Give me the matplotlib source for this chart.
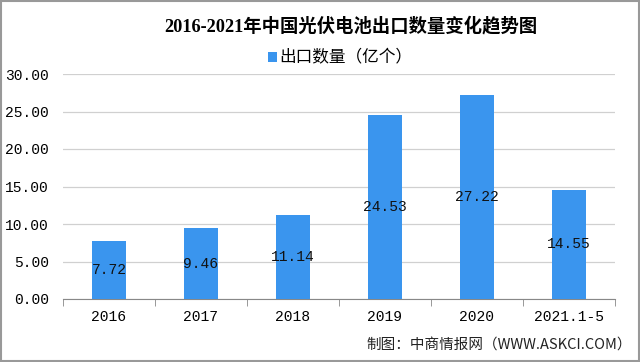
import matplotlib
matplotlib.use("Agg")
import matplotlib.pyplot as plt
from matplotlib.patches import Rectangle

# data
categorias = ["2016", "2017", "2018", "2019", "2020", "2021.1-5"]
valores = [7.72, 9.46, 11.14, 24.53, 27.22, 14.55]
rotulos = ["7.72", "9.46", "11.14", "24.53", "27.22", "14.55"]
yticks = [0, 5, 10, 15, 20, 25, 30]

titulo = "2016-2021年中国光伏电池出口数量变化趋势图"
legenda = "出口数量（亿个）"
fonte = "制图：中商情报网（WWW.ASKCI.COM）"

cor_barra = "#3a95ee"
num_font = ["Liberation Mono", "Noto Sans CJK SC"]
cjk_font = ["Noto Sans CJK SC", "DejaVu Sans"]

fig = plt.figure(figsize=(6.4, 3.62), dpi=100)
fig.patch.set_facecolor("white")
ax = fig.add_axes([63 / 640, 1 - 299 / 362, (615 - 63) / 640, (299 - 74) / 362])

x = list(range(len(categorias)))
barras = ax.bar(x, valores, width=0.36, color=cor_barra, zorder=3, label=legenda)
ax.bar_label(barras, labels=rotulos, label_type="center", fontsize=10.5,
             family=num_font, color="#111111", zorder=4)

ax.set_xlim(-0.5, len(categorias) - 0.5)
ax.set_ylim(0, 30)
ax.set_yticks(yticks)
ax.set_yticklabels([f"{v:.2f}" for v in yticks], family=num_font, fontsize=10.5)
ax.set_xticks(x)
ax.set_xticklabels(categorias, family=num_font, fontsize=10.5)
ax.tick_params(axis="x", length=0, pad=8)
ax.tick_params(axis="y", length=0, pad=10)

# marcas entre categorias
ax.set_xticks([i - 0.5 for i in range(len(categorias) + 1)], minor=True)
ax.tick_params(axis="x", which="minor", length=5, color="#888888")

ax.grid(axis="y", color="#d0d0d0", linewidth=0.9, zorder=0)
for lado in ["top", "right", "left"]:
    ax.spines[lado].set_visible(False)
ax.spines["bottom"].set_color("#888888")

fig.text(351 / 640, 1 - 26 / 362, titulo, ha="center", va="center", fontsize=13.2,
         fontweight="bold", family=["Liberation Serif", "Noto Sans CJK SC"])

fig.legend(handles=[barras], labels=[legenda], loc="center",
           bbox_to_anchor=(340 / 640, 1 - 58 / 362), frameon=False,
           prop={"family": cjk_font, "size": 12},
           handlelength=0.55, handleheight=0.55, handletextpad=0.15)

fig.text(632 / 640, 1 - 345 / 362, fonte, ha="right", va="center", fontsize=10.5,
         family=cjk_font, color="#222222")

fig.patches.append(Rectangle((0.002, 0.003), 0.996, 0.994, transform=fig.transFigure,
                             fill=False, edgecolor="#999999", linewidth=1.5))

fig.savefig("out.png", dpi=100)
